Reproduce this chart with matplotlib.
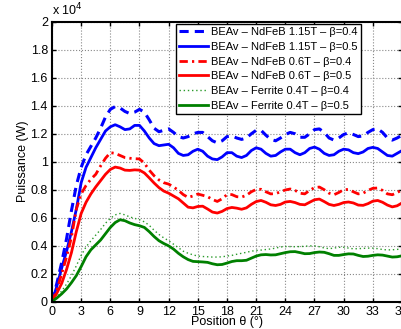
import matplotlib
matplotlib.use("Agg")
import matplotlib.pyplot as plt
import numpy as np

plt.rcParams['font.family'] = ['Liberation Sans', 'DejaVu Sans']

# rotor position (deg), 0.5 deg step
theta = np.arange(0, 36.01, 0.5)

# power in kW
ndfeb115_b04 = [0, 1.3, 2.8, 4.5, 6.5, 8.3, 9.6, 10.5, 11.1, 11.7, 12.4, 13.2, 13.75, 13.95, 13.85, 13.6,
                13.45, 13.55, 13.75, 13.55, 13.0, 12.4, 12.15, 12.25, 12.35, 12.1, 11.8, 11.7, 11.8, 12.0,
                12.1, 12.1, 11.8, 11.5, 11.35, 11.5, 11.8, 11.85, 11.7, 11.6, 11.7, 12.0, 12.25, 12.25,
                11.9, 11.6, 11.5, 11.7, 11.95, 12.1, 12.0, 11.75, 11.75, 12.0, 12.3, 12.35, 12.1, 11.7,
                11.55, 11.7, 11.95, 12.07, 11.95, 11.8, 11.85, 12.1, 12.3, 12.35, 12.1, 11.7, 11.55, 11.7, 11.9]
ndfeb115_b05 = [0, 1.1, 2.4, 3.6, 5.0, 6.6, 8.5, 9.6, 10.3, 11.0, 11.6, 12.2, 12.5, 12.65, 12.5, 12.3,
                12.35, 12.6, 12.6, 12.2, 11.7, 11.3, 11.15, 11.2, 11.25, 11.0, 10.6, 10.45, 10.5, 10.75,
                10.9, 10.75, 10.4, 10.2, 10.15, 10.35, 10.65, 10.65, 10.4, 10.3, 10.45, 10.8, 11.0, 10.9,
                10.6, 10.4, 10.45, 10.7, 10.9, 10.9, 10.65, 10.5, 10.65, 10.95, 11.05, 10.9, 10.6, 10.45,
                10.5, 10.75, 10.9, 10.85, 10.65, 10.58, 10.7, 10.95, 11.03, 10.95, 10.7, 10.45, 10.4, 10.6, 10.8]
ndfeb06_b04 = [0, 0.8, 2.0, 3.2, 4.6, 6.6, 7.7, 8.3, 8.75, 9.1, 9.7, 10.25, 10.65, 10.6, 10.45, 10.3,
               10.25, 10.22, 10.2, 9.9, 9.4, 9.0, 8.7, 8.5, 8.4, 8.2, 7.95, 7.65, 7.45, 7.55,
               7.69, 7.6, 7.5, 7.3, 7.16, 7.35, 7.65, 7.65, 7.5, 7.47, 7.6, 7.85, 8.02, 8.03,
               7.85, 7.7, 7.72, 7.85, 7.98, 8.05, 7.95, 7.75, 7.7, 7.95, 8.15, 8.19, 8.0, 7.75,
               7.64, 7.8, 8.0, 8.02, 7.85, 7.7, 7.75, 7.95, 8.1, 8.12, 7.95, 7.7, 7.64, 7.8, 7.98]
ndfeb06_b05 = [0, 0.6, 1.3, 2.3, 3.5, 5.0, 6.3, 7.1, 7.7, 8.2, 8.65, 9.1, 9.45, 9.62, 9.55, 9.4,
               9.38, 9.42, 9.4, 9.2, 8.85, 8.48, 8.15, 7.9, 7.75, 7.55, 7.35, 7.05, 6.75, 6.7,
               6.8, 6.82, 6.62, 6.4, 6.33, 6.45, 6.65, 6.73, 6.68, 6.6, 6.7, 6.95, 7.15, 7.23,
               7.1, 6.92, 6.87, 6.95, 7.12, 7.16, 7.08, 6.95, 6.92, 7.1, 7.28, 7.33, 7.15, 6.95,
               6.87, 6.95, 7.08, 7.12, 7.05, 6.9, 6.88, 7.0, 7.18, 7.23, 7.1, 6.9, 6.77, 6.85, 7.05]
ferrite_b04 = [0, 0.35, 0.75, 1.25, 1.85, 2.55, 3.3, 3.9, 4.35, 4.75, 5.15, 5.6, 5.95, 6.2, 6.3, 6.2,
               6.05, 5.95, 5.85, 5.7, 5.45, 5.1, 4.8, 4.55, 4.35, 4.1, 3.85, 3.6, 3.45, 3.34,
               3.25, 3.22, 3.2, 3.18, 3.18, 3.2, 3.25, 3.3, 3.38, 3.45, 3.52, 3.6, 3.65, 3.68,
               3.72, 3.76, 3.82, 3.9, 3.93, 3.93, 3.92, 3.93, 3.95, 3.98, 3.98, 3.92, 3.83, 3.78,
               3.82, 3.88, 3.88, 3.82, 3.77, 3.78, 3.8, 3.82, 3.82, 3.78, 3.72, 3.69, 3.7, 3.73, 3.75]
ferrite_b05 = [0, 0.25, 0.55, 0.9, 1.35, 1.85, 2.5, 3.2, 3.7, 4.05, 4.4, 4.85, 5.3, 5.65, 5.85, 5.78,
               5.62, 5.5, 5.42, 5.3, 5.0, 4.65, 4.35, 4.15, 3.98, 3.75, 3.45, 3.2, 3.0, 2.87,
               2.85, 2.83, 2.8, 2.7, 2.63, 2.65, 2.75, 2.86, 2.92, 2.92, 2.95, 3.1, 3.25, 3.34,
               3.36, 3.33, 3.34, 3.42, 3.5, 3.56, 3.57, 3.5, 3.42, 3.43, 3.5, 3.54, 3.52, 3.42,
               3.3, 3.3, 3.36, 3.41, 3.4, 3.3, 3.22, 3.24, 3.3, 3.34, 3.32, 3.25, 3.18, 3.2, 3.27]

labels = ['BEAv \u2013 NdFeB 1.15T \u2013 \u03b2=0.4',
          'BEAv \u2013 NdFeB 1.15T \u2013 \u03b2=0.5',
          'BEAv \u2013 NdFeB 0.6T \u2013 \u03b2=0.4',
          'BEAv \u2013 NdFeB 0.6T \u2013 \u03b2=0.5',
          'BEAv \u2013 Ferrite 0.4T \u2013 \u03b2=0.4',
          'BEAv \u2013 Ferrite 0.4T \u2013 \u03b2=0.5']

fig = plt.figure(figsize=(4.02, 3.29), dpi=100)
ax = fig.add_axes([52/402, 27.5/329, 350/402, 279.5/329])

series = [ndfeb115_b04, ndfeb115_b05, ndfeb06_b04, ndfeb06_b05, ferrite_b04, ferrite_b05]
styles = [dict(color='#0000ff', ls=(0, (3, 2)), lw=2.2),
          dict(color='#0000ff', ls='-', lw=2.0),
          dict(color='#ff0000', ls=(0, (3, 1.5, 0.8, 1.5)), lw=2.0),
          dict(color='#ff0000', ls='-', lw=2.0),
          dict(color='#2a9a2a', ls=(0, (1, 2)), lw=1.0),
          dict(color='#008000', ls='-', lw=2.0)]
for p, st, lab in zip(series, styles, labels):
    ax.plot(theta, np.array(p) * 1000, label=lab, **st)

ax.set_xlim(0, 36)
ax.set_ylim(0, 20000)
ax.set_xticks(np.arange(0, 37, 3))
ax.set_yticks(np.arange(0, 20001, 2000))
ax.set_yticklabels(['%g' % (v / 1e4) for v in np.arange(0, 20001, 2000)])
ax.tick_params(direction='in', top=True, right=True, labelsize=9, length=3, width=1, pad=3)
ax.grid(True, ls=':', color='#888888', lw=0.8)
for s in ax.spines.values():
    s.set_linewidth(1.5)

ax.text(0.0, 1.012, 'x 10$^4$', transform=ax.transAxes, fontsize=9, ha='left', va='bottom')
ax.set_xlabel('Position \u03b8 (\u00b0)', fontsize=9, labelpad=-1)
ax.set_ylabel('Puissance (W)', fontsize=9, labelpad=1)

leg = ax.legend(loc='upper right', bbox_to_anchor=(0.883, 0.993), fontsize=8, frameon=True,
                fancybox=False, edgecolor='black', handlelength=2.6, handletextpad=0.3,
                labelspacing=0.42, borderpad=0.3, borderaxespad=0.0)
leg.get_frame().set_linewidth(1.0)
leg.get_frame().set_alpha(1)

fig.savefig('out.png', dpi=100)
